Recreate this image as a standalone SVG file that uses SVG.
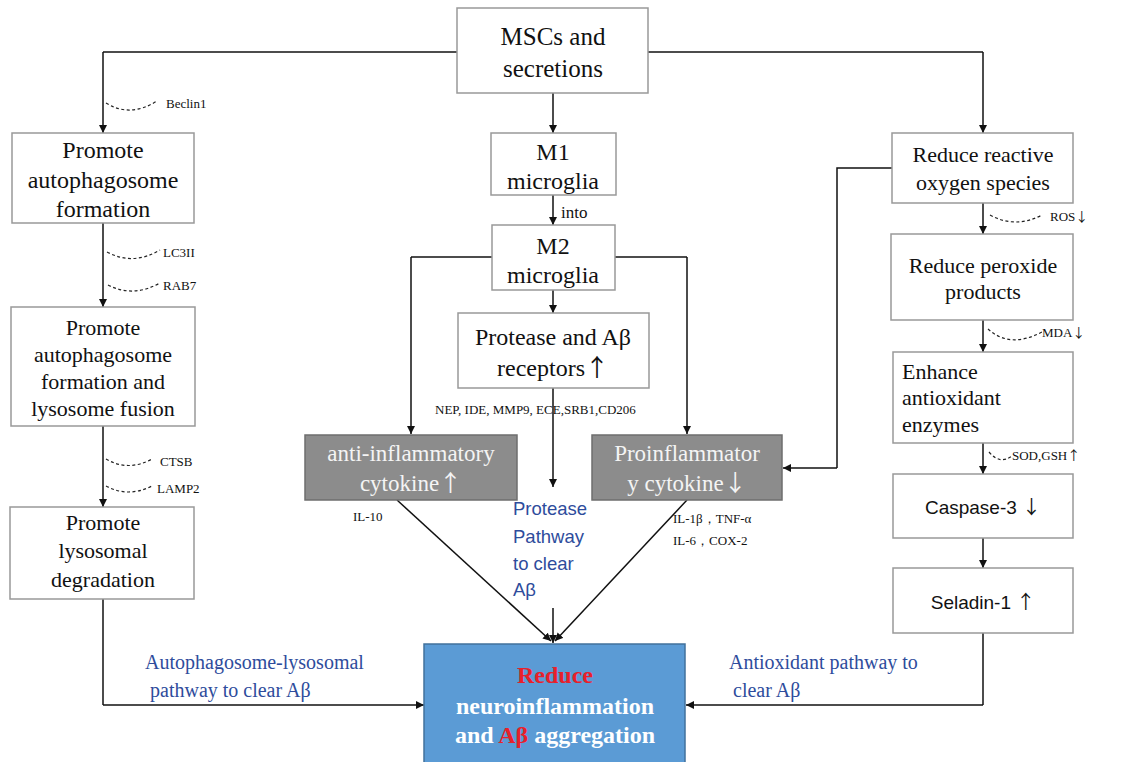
<svg xmlns="http://www.w3.org/2000/svg" width="1122" height="762" viewBox="0 0 1122 762">
<defs>
<marker id="ah" viewBox="0 0 10 10" refX="10" refY="5" markerWidth="8" markerHeight="8" markerUnits="userSpaceOnUse" orient="auto">
<path d="M0,0 L10,5 L0,10 z" fill="#111"/>
</marker>
<style>
.box{fill:#fff;stroke:#999;stroke-width:1.5}
.gbox{fill:#8C8C8C;stroke:#6E6E6E;stroke-width:1.5}
.t{font-family:"Liberation Serif",serif;fill:#111;text-anchor:middle}
.tl{font-family:"Liberation Serif",serif;fill:#111;text-anchor:start}
.tw{font-family:"Liberation Serif",serif;fill:#F4F4F4;text-anchor:middle;font-size:23px}
.ts{font-family:"Liberation Sans",sans-serif;fill:#111;text-anchor:middle;font-size:19px}
.sm{font-family:"Liberation Serif",serif;fill:#111;font-size:13px}
.blue{font-family:"Liberation Serif",serif;fill:#2E4C9C;font-size:20px}
.bluesans{font-family:"Liberation Sans",sans-serif;fill:#2E4C9C;font-size:18.5px}
.ar{font-family:"Noto Sans CJK SC","Noto Sans",sans-serif}
.ln{fill:none;stroke:#111;stroke-width:1.5}
.arr{fill:none;stroke:#111;stroke-width:1.5;marker-end:url(#ah)}
.dash{fill:none;stroke:#222;stroke-width:1.2;stroke-dasharray:3,2.5}
.bt{font-family:"Liberation Serif",serif;font-weight:bold;fill:#fff;text-anchor:middle;font-size:24px}
.red{fill:#E8202A}
</style>
</defs>
<rect width="1122" height="762" fill="#fff"/>

<g id="connectors">
<path class="ln" d="M457,52 H103"/>
<path class="arr" d="M103,52 V133"/>
<path class="ln" d="M648,52 H983"/>
<path class="arr" d="M983,52 V133"/>
<path class="arr" d="M553,93 V133"/>
<path class="arr" d="M553,195 V225"/>
<path class="ln" d="M492,257 H411"/>
<path class="arr" d="M411,257 V434"/>
<path class="ln" d="M615,257 H687"/>
<path class="arr" d="M687,257 V434"/>
<path class="arr" d="M553,290 V313"/>
<path class="arr" d="M553,388 V487"/>
<path class="arr" d="M397,500 L551,641"/>
<path class="arr" d="M687,500 L555,641"/>
<path class="arr" d="M553,608 V643"/>
<path class="arr" d="M103,223 V307"/>
<path class="arr" d="M103,426 V507"/>
<path class="ln" d="M103,599 V705"/>
<path class="arr" d="M103,705 H424"/>
<path class="ln" d="M892,168 H837 V468"/>
<path class="arr" d="M837,468 H783"/>
<path class="arr" d="M983,203 V234"/>
<path class="arr" d="M983,320 V352"/>
<path class="arr" d="M983,443 V474"/>
<path class="arr" d="M983,538 V568"/>
<path class="ln" d="M983,633 V705"/>
<path class="arr" d="M983,705 H686"/>
<path class="dash" d="M106,103 Q130,118 157,101"/>
<path class="dash" d="M107,252 Q133,266 160,250"/>
<path class="dash" d="M108,285 Q133,298 160,283"/>
<path class="dash" d="M106,459 Q128,472 152,459"/>
<path class="dash" d="M106,486 Q128,498 152,486"/>
<path class="dash" d="M990,215 Q1015,229 1042,215"/>
<path class="dash" d="M988,329 Q1010,349 1042,332"/>
<path class="dash" d="M989,452 Q1000,465 1012,456"/>
</g>

<g id="labels">
<text class="sm" x="166" y="108">Beclin1</text>
<text class="sm" x="163" y="257">LC3II</text>
<text class="sm" x="163" y="290">RAB7</text>
<text class="sm" x="160" y="466">CTSB</text>
<text class="sm" x="157" y="493">LAMP2</text>
<text class="sm" x="1050" y="221">ROS<tspan class="ar">↓</tspan></text>
<text class="sm" x="1042" y="337">MDA<tspan class="ar">↓</tspan></text>
<text class="sm" x="1012" y="460">SOD,GSH<tspan class="ar">↑</tspan></text>
<text class="sm" x="561" y="218" style="font-size:17px">into</text>
<text class="sm" x="435" y="414">NEP, IDE, MMP9, ECE,SRB1,CD206</text>
<text class="sm" x="353" y="521">IL-10</text>
<text class="sm" x="673" y="523">IL-1β，TNF-α</text>
<text class="sm" x="673" y="545">IL-6，COX-2</text>
<text class="bluesans" x="513" y="515">Protease</text>
<text class="bluesans" x="513" y="543">Pathway</text>
<text class="bluesans" x="513" y="570">to clear</text>
<text class="bluesans" x="513" y="596">Aβ</text>
<text class="blue" x="145" y="669">Autophagosome-lysosomal</text>
<text class="blue" x="150" y="697">pathway  to clear Aβ</text>
<text class="blue" x="729" y="669">Antioxidant  pathway  to</text>
<text class="blue" x="733" y="697">clear Aβ</text>
</g>

<g id="msc">
<rect class="box" x="457" y="8" width="191" height="85"/>
<text class="t" x="553" y="45" font-size="25">MSCs and</text>
<text class="t" x="553" y="77" font-size="25">secretions</text>
</g>
<g id="autophagosome">
<rect class="box" x="12" y="133" width="182" height="90"/>
<text class="t" x="103" y="158" font-size="24">Promote</text>
<text class="t" x="103" y="188" font-size="24">autophagosome</text>
<text class="t" x="103" y="217" font-size="24">formation</text>
</g>
<g id="fusion">
<rect class="box" x="11" y="307" width="184" height="119"/>
<text class="t" x="103" y="335" font-size="22">Promote</text>
<text class="t" x="103" y="362" font-size="22">autophagosome</text>
<text class="t" x="103" y="389" font-size="22">formation and</text>
<text class="t" x="103" y="416" font-size="22">lysosome  fusion</text>
</g>
<g id="lysosomal">
<rect class="box" x="10" y="507" width="184" height="92"/>
<text class="t" x="103" y="530" font-size="22">Promote</text>
<text class="t" x="103" y="558" font-size="22">lysosomal</text>
<text class="t" x="103" y="587" font-size="22">degradation</text>
</g>
<g id="m1">
<rect class="box" x="491" y="133" width="125" height="62"/>
<text class="t" x="553" y="160" font-size="24">M1</text>
<text class="t" x="553" y="189" font-size="24">microglia</text>
</g>
<g id="m2">
<rect class="box" x="492" y="225" width="123" height="65"/>
<text class="t" x="553" y="254" font-size="24">M2</text>
<text class="t" x="553" y="283" font-size="24">microglia</text>
</g>
<g id="protease">
<rect class="box" x="458" y="313" width="191" height="75"/>
<text class="t" x="553" y="345" font-size="24">Protease and Aβ</text>
<text class="t" x="553" y="376" font-size="24">receptors<tspan class="ar">↑</tspan></text>
</g>
<g id="anti">
<rect class="gbox" x="305" y="435" width="212" height="65"/>
<text class="tw" x="411" y="461">anti-inflammatory</text>
<text class="tw" x="411" y="491">cytokine<tspan class="ar">↑</tspan></text>
</g>
<g id="pro">
<rect class="gbox" x="592" y="435" width="190" height="65"/>
<text class="tw" x="687" y="461">Proinflammator</text>
<text class="tw" x="687" y="491">y cytokine<tspan class="ar">↓</tspan></text>
</g>
<g id="ros">
<rect class="box" x="892" y="133" width="181" height="70"/>
<text class="t" x="983" y="162" font-size="22">Reduce reactive</text>
<text class="t" x="983" y="190" font-size="22">oxygen  species</text>
</g>
<g id="peroxide">
<rect class="box" x="891" y="234" width="182" height="86"/>
<text class="t" x="983" y="273" font-size="22">Reduce peroxide</text>
<text class="t" x="983" y="299" font-size="22">products</text>
</g>
<g id="enzymes">
<rect class="box" x="893" y="352" width="180" height="91"/>
<text class="tl" x="902" y="379" font-size="22">Enhance</text>
<text class="tl" x="902" y="405" font-size="22">antioxidant</text>
<text class="tl" x="902" y="432" font-size="22">enzymes</text>
</g>
<g id="caspase">
<rect class="box" x="893" y="474" width="180" height="64"/>
<text class="ts" x="983" y="514">Caspase-3 <tspan class="ar">↓</tspan></text>
</g>
<g id="seladin">
<rect class="box" x="893" y="568" width="180" height="65"/>
<text class="ts" x="983" y="609">Seladin-1 <tspan class="ar">↑</tspan></text>
</g>
<g id="outcome">
<rect x="424" y="644" width="261" height="122" fill="#5B9BD5" stroke="#41719C" stroke-width="1.5"/>
<text class="bt red" x="555" y="683">Reduce</text>
<text class="bt" x="555" y="714">neuroinflammation</text>
<text class="bt" x="555" y="743">and <tspan class="red">Aβ</tspan> aggregation</text>
</g>
</svg>
